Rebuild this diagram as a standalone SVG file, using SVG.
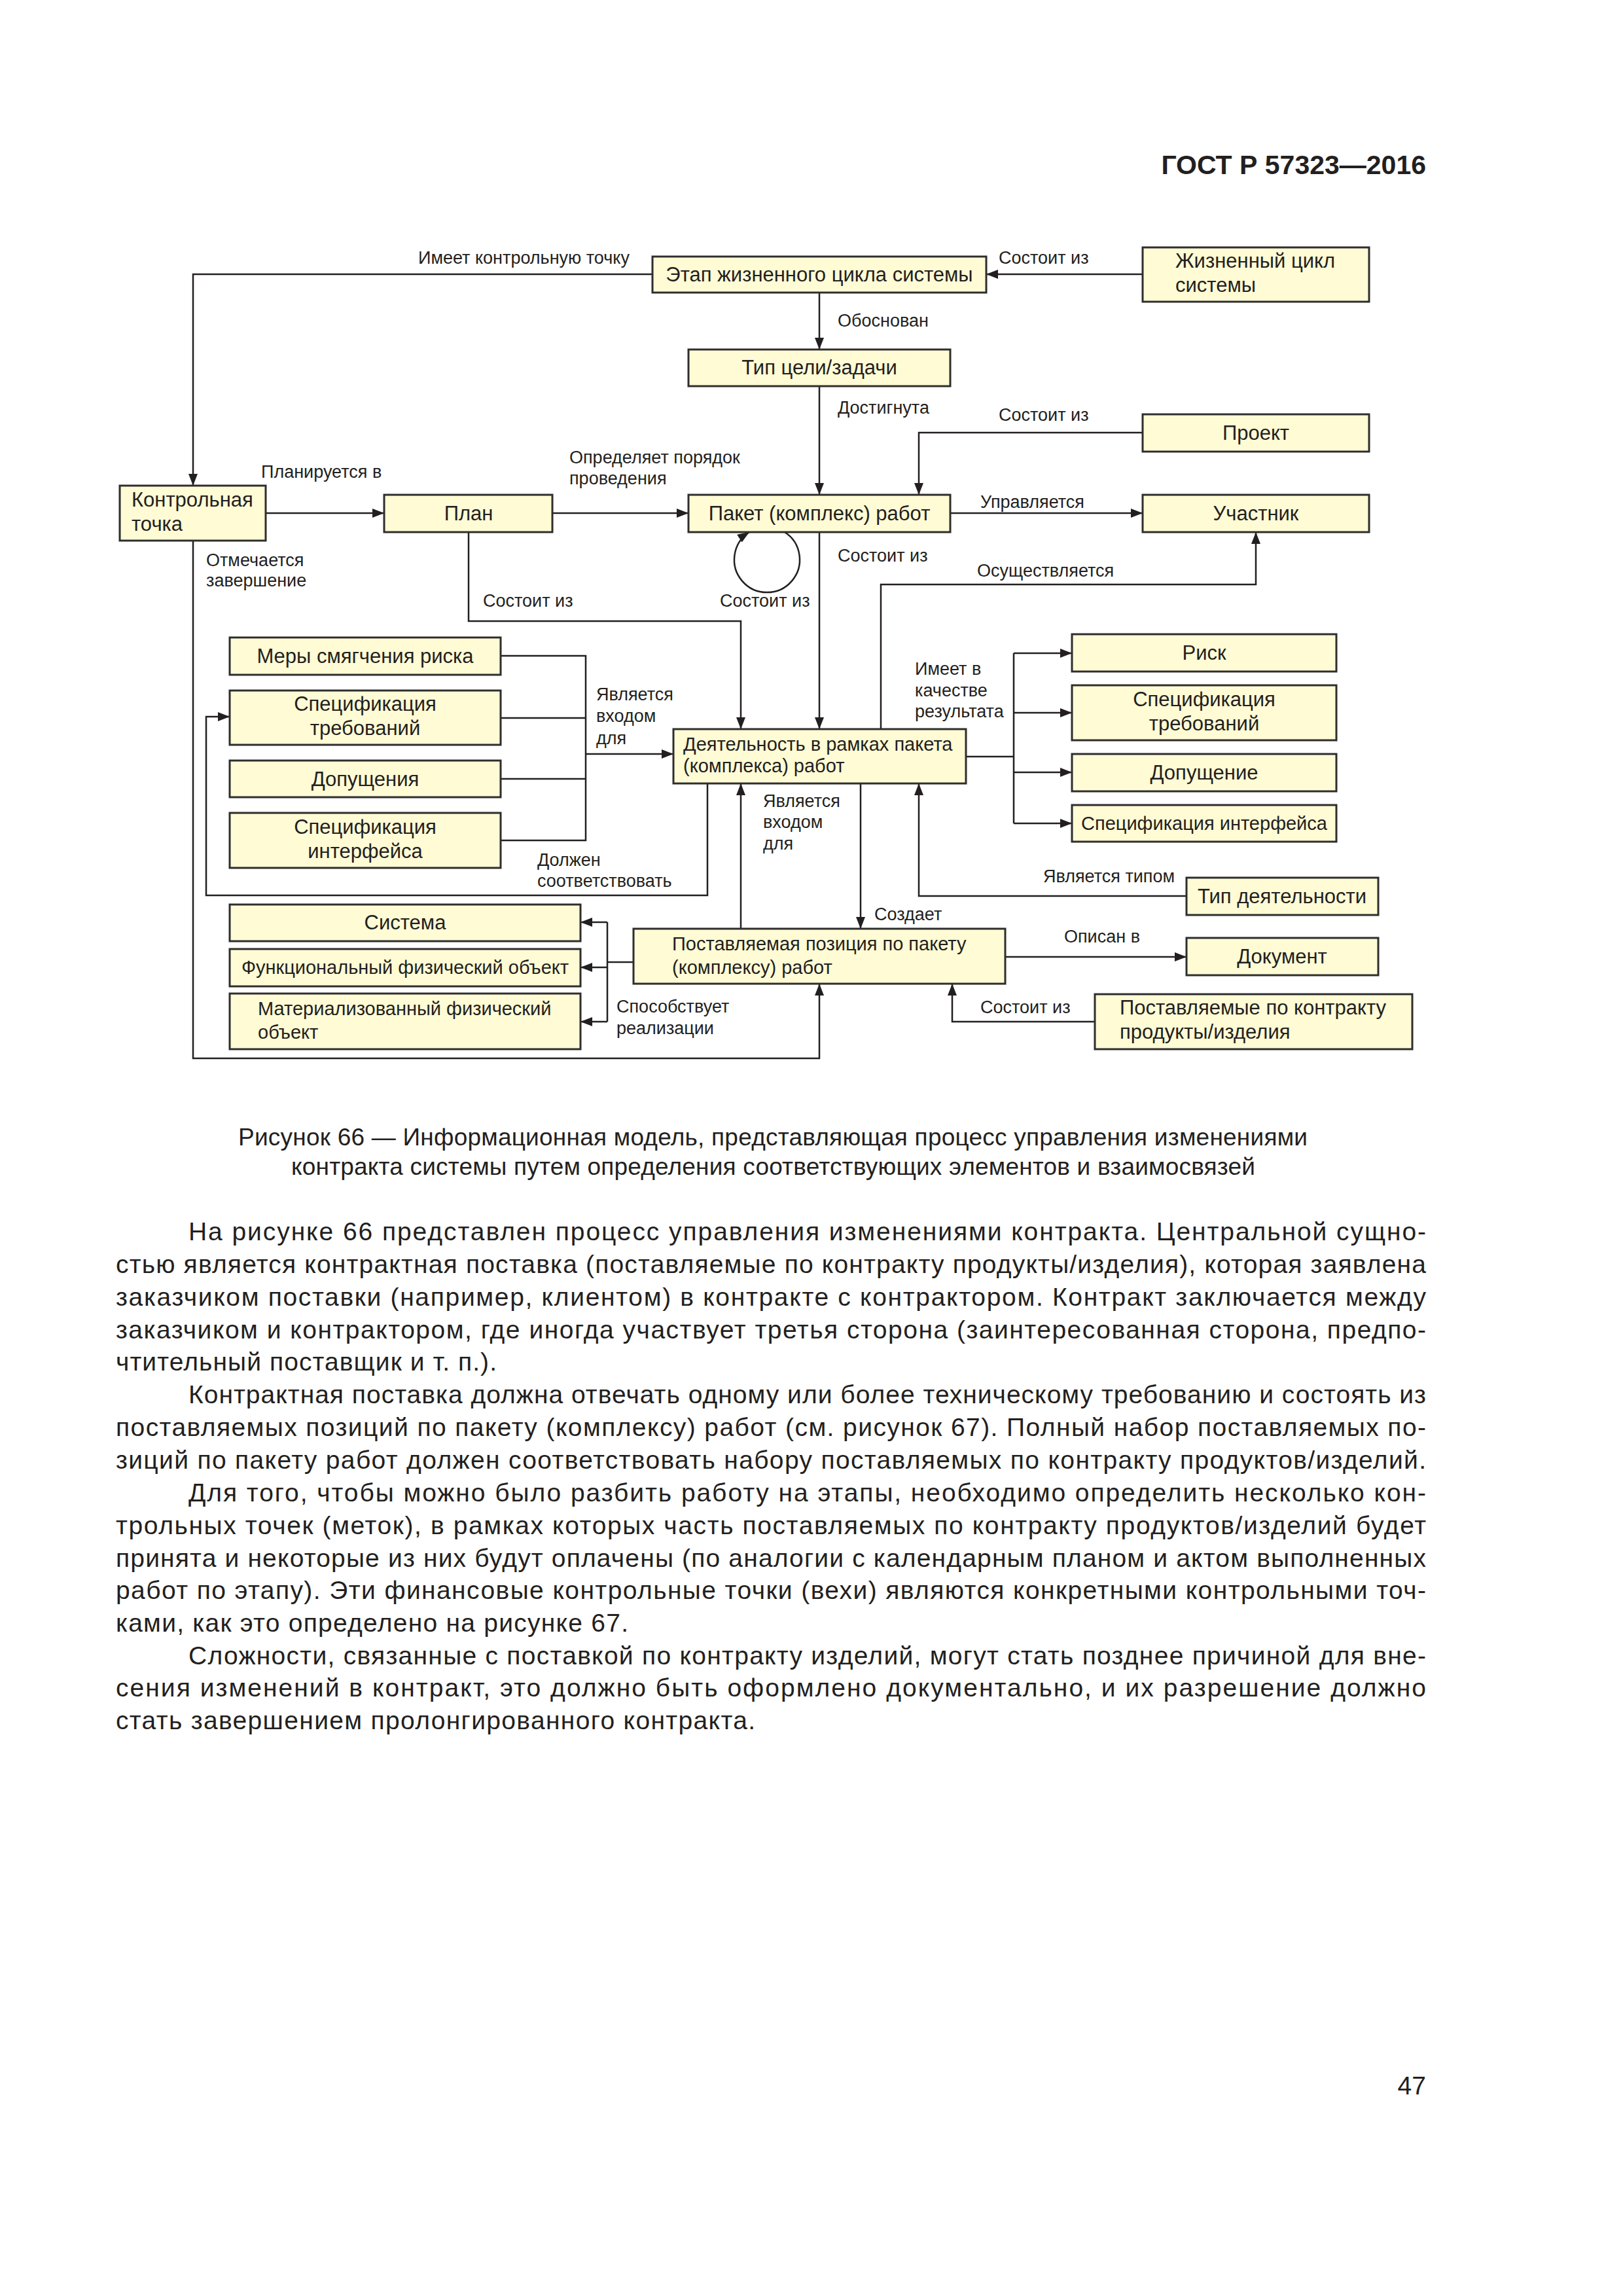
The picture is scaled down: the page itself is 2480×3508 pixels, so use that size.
<svg xmlns="http://www.w3.org/2000/svg" width="2480" height="3508" viewBox="0 0 2480 3508">
<defs>
<marker id="a" viewBox="0 0 18 14" markerWidth="18" markerHeight="14" refX="18" refY="7" orient="auto" markerUnits="userSpaceOnUse">
<path d="M0,0 L18,7 L0,14 z" fill="#231f20"/>
</marker>
<style>
.n rect{fill:#fffbd5;stroke:#2e2e2e;stroke-width:3}
.n text{font-family:"Liberation Sans",Arial,sans-serif;font-size:31px;fill:#231f20}
.n text.m{text-anchor:middle}
.n text.s{font-size:29px}
.c path{fill:none;stroke:#231f20;stroke-width:2.5}
.c path.ar{marker-end:url(#a)}
.c text{font-family:"Liberation Sans",Arial,sans-serif;font-size:27px;fill:#231f20}
.h{font-family:"Liberation Sans",Arial,sans-serif;fill:#231f20}
.b{font-family:"Liberation Sans",Arial,sans-serif;font-size:39px;fill:#231f20}
.cap{font-family:"Liberation Sans",Arial,sans-serif;font-size:37px;fill:#231f20}
</style>
</defs>
<rect width="2480" height="3508" fill="#ffffff"/>
<text class="h" x="2179" y="266" font-size="41" font-weight="bold" text-anchor="end">ГОСТ Р 57323—2016</text>

<g id="connectors" class="c">
<path class="ar" d="M997,419 H295 V742"/>
<text x="639" y="403">Имеет контрольную точку</text>
<path class="ar" d="M1746,419 H1507"/>
<text x="1526" y="403">Состоит из</text>
<path class="ar" d="M1252,447 V534"/>
<text x="1280" y="499">Обоснован</text>
<path class="ar" d="M1252,590 V756"/>
<text x="1280" y="632">Достигнута</text>
<path class="ar" d="M1746,661 H1404 V756"/>
<text x="1526" y="643">Состоит из</text>
<path class="ar" d="M406,784 H587"/>
<text x="399" y="730">Планируется в</text>
<path class="ar" d="M844,784 H1052"/>
<text x="870" y="708">Определяет порядок</text>
<text x="870" y="740">проведения</text>
<path class="ar" d="M1452,784 H1746"/>
<text x="1498" y="776">Управляется</text>
<path class="ar" d="M1199,813 A50,50 0 1 1 1145,813"/>
<text x="1100" y="927">Состоит из</text>
<path class="ar" d="M1252,813 V1114"/>
<text x="1280" y="858">Состоит из</text>
<path class="ar" d="M716,813 V949 H1132 V1114"/>
<text x="738" y="927">Состоит из</text>
<path class="ar" d="M295,826 V1617 H1252 V1503"/>
<text x="315" y="865">Отмечается</text>
<text x="315" y="896">завершение</text>
<path class="ar" d="M1346,1114 V893 H1919 V813"/>
<text x="1493" y="881">Осуществляется</text>
<path d="M765,1002 H895 V1284 H765 M765,1097 H895 M765,1190 H895"/>
<path class="ar" d="M895,1152 H1029"/>
<text x="911" y="1070">Является</text>
<text x="911" y="1103">входом</text>
<text x="911" y="1137">для</text>
<path class="ar" d="M1081,1197 V1368 H315 V1095 H351"/>
<text x="821" y="1323">Должен</text>
<text x="821" y="1355">соответствовать</text>
<path class="ar" d="M1132,1419 V1197"/>
<text x="1166" y="1233">Является</text>
<text x="1166" y="1265">входом</text>
<text x="1166" y="1298">для</text>
<path class="ar" d="M1315,1197 V1419"/>
<text x="1336" y="1406">Создает</text>
<path class="ar" d="M1813,1369 H1404 V1197"/>
<text x="1594" y="1348">Является типом</text>
<path d="M1476,1156 H1549 M1549,998 V1258"/>
<path class="ar" d="M1549,998 H1638"/>
<path class="ar" d="M1549,1089 H1638"/>
<path class="ar" d="M1549,1180 H1638"/>
<path class="ar" d="M1549,1258 H1638"/>
<text x="1398" y="1031">Имеет в</text>
<text x="1398" y="1064">качестве</text>
<text x="1398" y="1096">результата</text>
<path d="M968,1470 H928 M928,1409 V1561"/>
<path class="ar" d="M928,1409 H887"/>
<path class="ar" d="M928,1478 H887"/>
<path class="ar" d="M928,1561 H887"/>
<text x="942" y="1547">Способствует</text>
<text x="942" y="1580">реализации</text>
<path class="ar" d="M1536,1462 H1813"/>
<text x="1626" y="1440">Описан в</text>
<path class="ar" d="M1673,1561 H1455 V1503"/>
<text x="1498" y="1548">Состоит из</text>
</g>

<g id="n-etap" class="n"><rect x="997" y="392" width="510" height="55"/><text class="m" x="1252" y="430">Этап жизненного цикла системы</text></g>
<g id="n-zhc" class="n"><rect x="1746" y="378" width="346" height="83"/><text x="1796" y="409">Жизненный цикл</text><text x="1796" y="446">системы</text></g>
<g id="n-tip" class="n"><rect x="1052" y="534" width="400" height="56"/><text class="m" x="1252" y="572">Тип цели/задачи</text></g>
<g id="n-kt" class="n"><rect x="183" y="742" width="223" height="84"/><text x="201" y="774">Контрольная</text><text x="201" y="811">точка</text></g>
<g id="n-plan" class="n"><rect x="587" y="756" width="257" height="57"/><text class="m" x="716" y="795">План</text></g>
<g id="n-paket" class="n"><rect x="1052" y="756" width="400" height="57"/><text class="m" x="1252" y="795">Пакет (комплекс) работ</text></g>
<g id="n-proekt" class="n"><rect x="1746" y="633" width="346" height="57"/><text class="m" x="1919" y="672">Проект</text></g>
<g id="n-uchast" class="n"><rect x="1746" y="756" width="346" height="57"/><text class="m" x="1919" y="795">Участник</text></g>
<g id="n-mery" class="n"><rect x="351" y="974" width="414" height="57"/><text class="m" x="558" y="1013">Меры смягчения риска</text></g>
<g id="n-spec-treb-l" class="n"><rect x="351" y="1055" width="414" height="83"/><text class="m" x="558" y="1086">Спецификация</text><text class="m" x="558" y="1123">требований</text></g>
<g id="n-dop-l" class="n"><rect x="351" y="1162" width="414" height="56"/><text class="m" x="558" y="1201">Допущения</text></g>
<g id="n-spec-int-l" class="n"><rect x="351" y="1242" width="414" height="84"/><text class="m" x="558" y="1274">Спецификация</text><text class="m" x="558" y="1311">интерфейса</text></g>
<g id="n-deyat" class="n"><rect x="1029" y="1114" width="447" height="83"/><text class="s" x="1044" y="1147">Деятельность в рамках пакета</text><text class="s" x="1044" y="1180">(комплекса) работ</text></g>
<g id="n-risk" class="n"><rect x="1638" y="969" width="404" height="57"/><text class="m" x="1840" y="1008">Риск</text></g>
<g id="n-spec-treb-r" class="n"><rect x="1638" y="1047" width="404" height="84"/><text class="m" x="1840" y="1079">Спецификация</text><text class="m" x="1840" y="1116">требований</text></g>
<g id="n-dop-r" class="n"><rect x="1638" y="1152" width="404" height="57"/><text class="m" x="1840" y="1191">Допущение</text></g>
<g id="n-spec-int-r" class="n"><rect x="1638" y="1230" width="404" height="56"/><text class="m s" x="1840" y="1268">Спецификация интерфейса</text></g>
<g id="n-tip-deyat" class="n"><rect x="1813" y="1341" width="293" height="57"/><text class="m" x="1959" y="1380">Тип деятельности</text></g>
<g id="n-sistema" class="n"><rect x="351" y="1382" width="536" height="56"/><text class="m" x="619" y="1420">Система</text></g>
<g id="n-func" class="n"><rect x="351" y="1450" width="536" height="57"/><text class="m s" x="619" y="1488">Функциональный физический объект</text></g>
<g id="n-mat" class="n"><rect x="351" y="1518" width="536" height="85"/><text class="s" x="394" y="1551">Материализованный физический</text><text class="s" x="394" y="1587">объект</text></g>
<g id="n-postav" class="n"><rect x="968" y="1419" width="568" height="84"/><text class="s" x="1027" y="1452">Поставляемая позиция по пакету</text><text class="s" x="1027" y="1488">(комплексу) работ</text></g>
<g id="n-doc" class="n"><rect x="1813" y="1433" width="293" height="57"/><text class="m" x="1959" y="1472">Документ</text></g>
<g id="n-postav-k" class="n"><rect x="1673" y="1519" width="485" height="84"/><text x="1711" y="1550">Поставляемые по контракту</text><text x="1711" y="1587">продукты/изделия</text></g>

<g id="caption" class="cap">
<text x="364" y="1750" textLength="1634" lengthAdjust="spacing">Рисунок 66 — Информационная модель, представляющая процесс управления изменениями</text>
<text x="445" y="1795" textLength="1473" lengthAdjust="spacing">контракта системы путем определения соответствующих элементов и взаимосвязей</text>
</g>

<g id="body" class="b">
<text x="288" y="1895" textLength="1891" lengthAdjust="spacing">На рисунке 66 представлен процесс управления изменениями контракта. Центральной сущно-</text>
<text x="177" y="1945" textLength="2002" lengthAdjust="spacing">стью является контрактная поставка (поставляемые по контракту продукты/изделия), которая заявлена</text>
<text x="177" y="1995" textLength="2002" lengthAdjust="spacing">заказчиком поставки (например, клиентом) в контракте с контрактором. Контракт заключается между</text>
<text x="177" y="2045" textLength="2002" lengthAdjust="spacing">заказчиком и контрактором, где иногда участвует третья сторона (заинтересованная сторона, предпо-</text>
<text x="177" y="2094" textLength="582" lengthAdjust="spacing">чтительный поставщик и т. п.).</text>
<text x="288" y="2144" textLength="1891" lengthAdjust="spacing">Контрактная поставка должна отвечать одному или более техническому требованию и состоять из</text>
<text x="177" y="2194" textLength="2002" lengthAdjust="spacing">поставляемых позиций по пакету (комплексу) работ (см. рисунок 67). Полный набор поставляемых по-</text>
<text x="177" y="2244" textLength="2002" lengthAdjust="spacing">зиций по пакету работ должен соответствовать набору поставляемых по контракту продуктов/изделий.</text>
<text x="288" y="2294" textLength="1891" lengthAdjust="spacing">Для того, чтобы можно было разбить работу на этапы, необходимо определить несколько кон-</text>
<text x="177" y="2344" textLength="2002" lengthAdjust="spacing">трольных точек (меток), в рамках которых часть поставляемых по контракту продуктов/изделий будет</text>
<text x="177" y="2394" textLength="2002" lengthAdjust="spacing">принята и некоторые из них будут оплачены (по аналогии с календарным планом и актом выполненных</text>
<text x="177" y="2443" textLength="2002" lengthAdjust="spacing">работ по этапу). Эти финансовые контрольные точки (вехи) являются конкретными контрольными точ-</text>
<text x="177" y="2493" textLength="783" lengthAdjust="spacing">ками, как это определено на рисунке 67.</text>
<text x="288" y="2543" textLength="1891" lengthAdjust="spacing">Сложности, связанные с поставкой по контракту изделий, могут стать позднее причиной для вне-</text>
<text x="177" y="2592" textLength="2002" lengthAdjust="spacing">сения изменений в контракт, это должно быть оформлено документально, и их разрешение должно</text>
<text x="177" y="2642" textLength="977" lengthAdjust="spacing">стать завершением пролонгированного контракта.</text>
</g>

<text class="b" x="2179" y="3200" text-anchor="end">47</text>
</svg>
